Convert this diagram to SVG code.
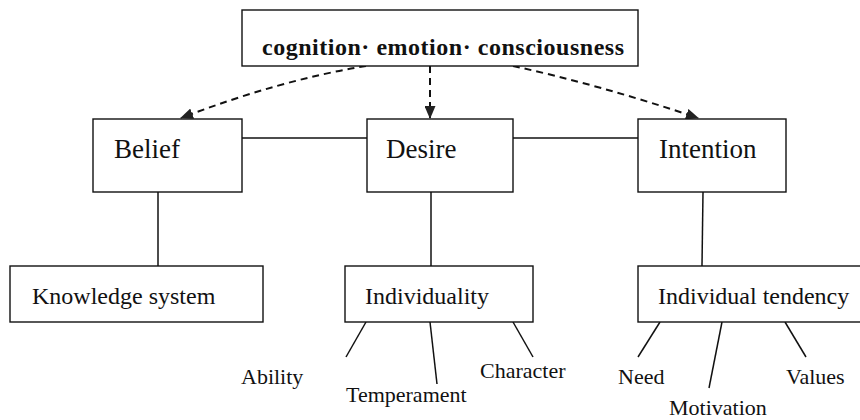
<svg xmlns="http://www.w3.org/2000/svg" width="860" height="420" viewBox="0 0 860 420">
<style>
.box{fill:#fff;stroke:#111;stroke-width:1.4}
.t{font-family:"Liberation Serif","Times New Roman",serif;fill:#111}
.big{font-size:27px}
.mid{font-size:24px}
.sm{font-size:22px}
.ln{stroke:#111;stroke-width:1.5;fill:none}
.dash{stroke:#111;stroke-width:2;fill:none;stroke-dasharray:7,5}
</style>
<defs>
<marker id="ah" markerWidth="13" markerHeight="11" refX="12" refY="5.5" orient="auto" markerUnits="userSpaceOnUse">
<path d="M0,0 L13,5.5 L0,11 Z" fill="#222"/>
</marker>
</defs>
<rect width="860" height="420" fill="#fff"/>
<g id="connectors">
<path class="dash" d="M366,66 Q280,80 181,118" marker-end="url(#ah)"/>
<path class="dash" d="M430,66 L430,118" marker-end="url(#ah)"/>
<path class="dash" d="M513,66 Q600,85 698,118" marker-end="url(#ah)"/>
<line class="ln" x1="242" y1="138" x2="367" y2="138"/>
<line class="ln" x1="513" y1="138" x2="638" y2="138"/>
<line class="ln" x1="158" y1="192" x2="158" y2="266"/>
<line class="ln" x1="431" y1="192" x2="431" y2="266"/>
<line class="ln" x1="703" y1="192" x2="702" y2="266"/>
<line class="ln" x1="366" y1="322" x2="346" y2="357"/>
<line class="ln" x1="430" y1="322" x2="437" y2="384"/>
<line class="ln" x1="513" y1="322" x2="533" y2="357"/>
<line class="ln" x1="660" y1="322" x2="638" y2="357"/>
<line class="ln" x1="722" y1="322" x2="709" y2="388"/>
<line class="ln" x1="785" y1="322" x2="806" y2="357"/>
</g>
<g id="top">
<rect class="box" x="242" y="10" width="396" height="56"/>
<text class="t" x="262" y="55" font-size="24" font-weight="bold" textLength="362" lengthAdjust="spacing">cognition· emotion· consciousness</text>
</g>
<g id="belief">
<rect class="box" x="93" y="119" width="149" height="73"/>
<text class="t big" x="114" y="158">Belief</text>
</g>
<g id="desire">
<rect class="box" x="367" y="119" width="146" height="73"/>
<text class="t big" x="386" y="158">Desire</text>
</g>
<g id="intention">
<rect class="box" x="638" y="119" width="148" height="73"/>
<text class="t big" x="659" y="158">Intention</text>
</g>
<g id="knowledge">
<rect class="box" x="10" y="266" width="253" height="56"/>
<text class="t mid" x="32" y="304">Knowledge system</text>
</g>
<g id="individuality">
<rect class="box" x="345" y="266" width="188" height="56"/>
<text class="t mid" x="365" y="304">Individuality</text>
</g>
<g id="tendency">
<rect class="box" x="638" y="266" width="226" height="56"/>
<text class="t mid" x="658" y="304">Individual tendency</text>
</g>
<g id="ability"><text class="t sm" x="241" y="384">Ability</text></g>
<g id="temperament"><text class="t sm" x="346" y="402">Temperament</text></g>
<g id="character"><text class="t sm" x="480" y="378">Character</text></g>
<g id="need"><text class="t sm" x="618" y="384">Need</text></g>
<g id="motivation"><text class="t sm" x="669" y="415">Motivation</text></g>
<g id="values"><text class="t sm" x="786" y="384">Values</text></g>
</svg>
